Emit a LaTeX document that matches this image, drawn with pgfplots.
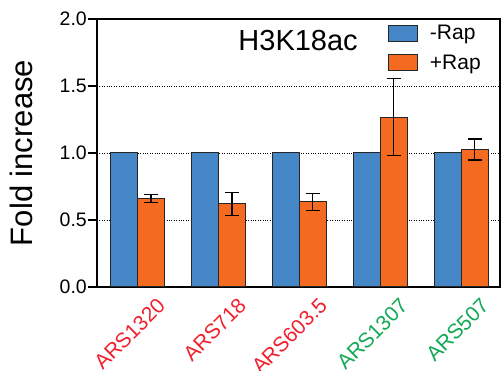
\documentclass[border=0pt]{standalone}
\usepackage{fontspec}
\setmainfont{Liberation Sans}
\usepackage{pgfplots}
\pgfplotsset{compat=1.18}
\definecolor{cblue}{HTML}{4486C6}
\definecolor{corange}{HTML}{F46A21}
\definecolor{cred}{HTML}{F0202E}
\definecolor{cgreen}{HTML}{12A955}
\pgfplotsset{mylegend/.style={legend image code/.code={\draw[##1] (0pt,-8pt) rectangle (29pt,8pt);}}}
\begin{document}
\begin{tikzpicture}[font=\fontsize{21}{25}\selectfont]
\useasboundingbox (-97pt,-84pt) rectangle (405pt,268pt+19pt);
\begin{axis}[
  scale only axis,
  width=403pt, height=268pt,
  ybar=0pt, bar width=27pt,
  xmin=-0.5, xmax=4.48,
  ymin=0, ymax=2,
  xtick=data,
  xticklabels={\textcolor{cred}{ARS1320},\textcolor{cred}{ARS718},\textcolor{cred}{ARS603.5},\textcolor{cgreen}{ARS1307},\textcolor{cgreen}{ARS507}},
  xticklabel style={anchor=east, xshift=24pt, yshift=-6pt, rotate=45, inner sep=0pt},
  major x tick style={draw=none},
  ytick={0,0.5,1,1.5,2},
  yticklabel style={/pgf/number format/fixed, /pgf/number format/fixed zerofill, /pgf/number format/precision=1, /pgf/number format/assume math mode=true, inner sep=1pt, font=\fontsize{19.5}{23}\selectfont},
  tick align=outside,
  ytick pos=left,
  major tick length=9pt,
  major y tick style={line width=2.5pt, black},
  axis line style={line width=2.5pt},
  ymajorgrids,
  major grid style={dotted, black, line width=0.8pt},
  ylabel={Fold increase},
  every axis y label/.style={at={(rel axis cs:0,0.5)}, xshift=-64pt, rotate=90, anchor=base, font=\fontsize{31}{36}\selectfont},
  legend style={at={(rel axis cs:0.714,0.993)}, anchor=north west, draw=none, fill=none, row sep=10pt, font=\fontsize{21}{25}\selectfont,
    /tikz/every odd column/.append style={column sep=10pt}},
  legend cell align=left,
]
\addplot[fill=cblue, draw=black!85, line width=1pt, mylegend]
  coordinates {(0,1) (1,1) (2,1) (3,1) (4,1)};
\addlegendentry{-Rap}
\addplot[fill=corange, draw=black!85, line width=1pt, mylegend,
  error bars/.cd, y dir=both, y explicit,
  error bar style={line width=1.3pt, black},
  error mark options={rotate=90, mark size=7pt, line width=1.3pt, black}]
  coordinates {(0,0.658) +- (0,0.03) (1,0.621) +- (0,0.086) (2,0.636) +- (0,0.064) (3,1.268) +- (0,0.286) (4,1.026) +- (0,0.078)};
\addlegendentry{+Rap}
\node[font=\fontsize{29}{34}\selectfont, anchor=base] at (rel axis cs:0.499,0.884) {H3K18ac};
\end{axis}
\end{tikzpicture}
\end{document}
